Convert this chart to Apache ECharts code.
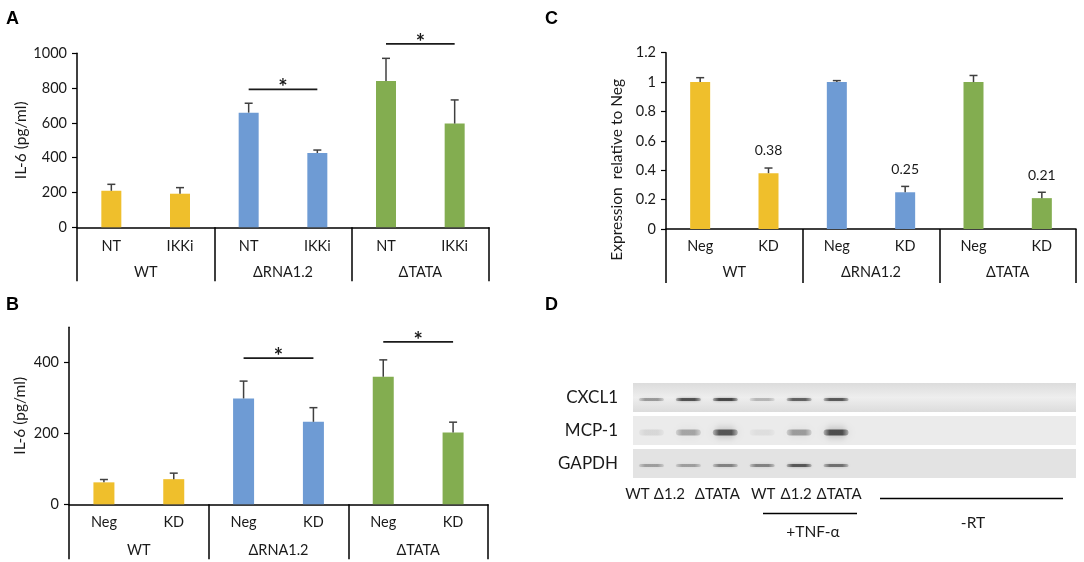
<!DOCTYPE html>
<html lang="en">
<head>
  <meta charset="UTF-8">
  <title>IL-6 / knockdown / RT-PCR</title>
  <script src="https://cdn.jsdelivr.net/npm/echarts@6/dist/echarts.min.js"></script>
  <style>
    html, body { margin: 0; padding: 0; background: #fff; }
  </style>
</head>
<body>
  <div id="main" style="width:1084px;height:562px;"></div>
  <script type="text/javascript">
    // data
    var groups = ['WT', 'ΔRNA1.2', 'ΔTATA'];
    var condA = ['NT', 'IKKi', 'NT', 'IKKi', 'NT', 'IKKi'];
    var condB = ['Neg', 'KD', 'Neg', 'KD', 'Neg', 'KD'];

    var il6A = [210, 193, 659, 427, 841, 596];
    var errA = [37, 35, 54, 17, 130, 136];
    var sigA = [[2, 3, 793], [4, 5, 1054]];

    var il6B = [62, 71, 299, 233, 360, 203];
    var errB = [8, 17, 49, 40, 48, 29];
    var sigB = [[2, 3, 413], [4, 5, 459]];

    var exprC = [1, 0.38, 1, 0.25, 1, 0.21];
    var errC = [0.03, 0.035, 0.01, 0.04, 0.045, 0.04];
    var labelC = ['', '0.38', '', '0.25', '', '0.21'];

    var lanes = ['WT', 'Δ1.2', 'ΔTATA', 'WT', 'Δ1.2', 'ΔTATA', '', '', '', '', '', ''];
    var genes = ['CXCL1', 'MCP-1', 'GAPDH'];
    var bandCXCL1 = [0.45, 0.85, 0.9, 0.3, 0.75, 0.8];
    var bandMCP1 = [0.12, 0.4, 0.85, 0.08, 0.45, 0.9];
    var bandGAPDH = [0.4, 0.4, 0.55, 0.55, 0.8, 0.65];

    // styling
    var FONT = 'Lato, "Noto Sans", sans-serif';
    var TXT = '#1a1a1a';
    var groupColors = ['#EFBF2C', '#6E9BD4', '#83AD50'];
    var laneShift = [-14, -19, -8, 1, -3, 3, 0, 0, 0, 0, 0, 0];
    var bandH = [3, 6, 3];
    var bandBlur = [3, 9, 3];
    var stripFill = ['#e6e6e6', '#ebebeb', '#e3e3e3'];

    var myChart = echarts.init(document.getElementById('main'));

    function barData(vals) {
      return vals.map(function (v, i) {
        return { value: v, itemStyle: { color: groupColors[Math.floor(i / 2)] } };
      });
    }

    function errSeries(idx, vals, errs) {
      return {
        type: 'custom',
        xAxisIndex: idx * 2,
        yAxisIndex: idx,
        z: 5,
        encode: { x: 0, y: 1 },
        data: vals.map(function (v, i) { return [i, v, errs[i]]; }),
        renderItem: function (params, api) {
          var base = api.coord([api.value(0), api.value(1)]);
          var top = api.coord([api.value(0), api.value(1) + api.value(2)]);
          var st = { stroke: '#404040', lineWidth: 1.5 };
          return {
            type: 'group',
            children: [
              { type: 'line', shape: { x1: base[0], y1: base[1], x2: top[0], y2: top[1] }, style: st },
              { type: 'line', shape: { x1: top[0] - 4, y1: top[1], x2: top[0] + 4, y2: top[1] }, style: st }
            ]
          };
        }
      };
    }

    function sigSeries(idx, sig) {
      return {
        type: 'custom',
        xAxisIndex: idx * 2,
        yAxisIndex: idx,
        z: 5,
        clip: false,
        encode: { x: [0, 1], y: 2 },
        data: sig,
        renderItem: function (params, api) {
          var a = api.coord([api.value(0), api.value(2)]);
          var b = api.coord([api.value(1), api.value(2)]);
          return {
            type: 'group',
            children: [
              { type: 'line', shape: { x1: a[0], y1: a[1], x2: b[0], y2: b[1] }, style: { stroke: '#1a1a1a', lineWidth: 1.8 } },
              { type: 'text', style: { text: '*', x: (a[0] + b[0]) / 2, y: a[1] - 1, align: 'center', verticalAlign: 'middle', font: 'bold 22px ' + FONT, fill: '#1a1a1a' } }
            ]
          };
        }
      };
    }

    function subAxis(gi, cats, margin) {
      return {
        type: 'category', gridIndex: gi, data: cats, position: 'bottom',
        axisLine: { show: true, onZero: false, lineStyle: { color: '#000', width: 1.5 } },
        axisTick: { show: false },
        axisLabel: { margin: margin, color: TXT, fontFamily: FONT, fontSize: 14.5 }
      };
    }
    function groupAxis(gi, margin, len) {
      return {
        type: 'category', gridIndex: gi, data: groups, position: 'bottom',
        axisLine: { show: false, onZero: false },
        axisTick: { show: true, length: len, lineStyle: { color: '#000', width: 1.5 } },
        axisLabel: { margin: margin, color: TXT, fontFamily: FONT, fontSize: 14.5 }
      };
    }
    function valAxis(gi, max, interval, name, gap, extra) {
      var ax = {
        type: 'value', gridIndex: gi, min: 0, max: max, interval: interval,
        name: name, nameLocation: 'middle', nameGap: gap,
        nameTextStyle: { color: TXT, fontFamily: FONT, fontSize: 15.5 },
        axisLine: { show: true, lineStyle: { color: '#000', width: 1.5 } },
        axisTick: { show: true, length: 5, lineStyle: { color: '#000', width: 1.2 } },
        axisLabel: {
          margin: 10, color: TXT, fontFamily: FONT, fontSize: 14.5,
          formatter: function (v) { return String(+v.toFixed(2)); }
        },
        splitLine: { show: false }
      };
      if (extra) {
        for (var k in extra) ax[k] = Object.assign({}, ax[k], extra[k]);
      }
      return ax;
    }

    var option = {
      animation: false,
      grid: [
        { left: 77, top: 53.3, width: 412, height: 174 },
        { left: 69, top: 327.3, width: 419, height: 177 },
        { left: 666, top: 52.7, width: 410, height: 176.3 },
        { left: 633, top: 381, width: 443, height: 99 }
      ],
      xAxis: [
        subAxis(0, condA, 12), groupAxis(0, 38, 54),
        subAxis(1, condB, 11), groupAxis(1, 39, 55),
        subAxis(2, condB, 10), groupAxis(2, 36, 54),
        {
          type: 'category', gridIndex: 3, data: lanes, position: 'bottom',
          axisLine: { show: false }, axisTick: { show: false },
          axisLabel: {
            margin: 7, color: TXT, fontFamily: FONT, fontSize: 15, interval: 0,
            formatter: function (v, i) { return v ? '{s' + i + '|' + v + '}' : ''; },
            rich: (function () {
              var r = {};
              laneShift.forEach(function (d, i) {
                r['s' + i] = { fontFamily: FONT, fontSize: 15, color: TXT, padding: d < 0 ? [0, -2 * d, 0, 0] : [0, 0, 0, 2 * d] };
              });
              return r;
            })()
          }
        }
      ],
      yAxis: [
        valAxis(0, 1000, 200, 'IL-6 (pg/ml)', 47),
        valAxis(1, 500, 200, 'IL-6 (pg/ml)', 41, {
          axisLabel: { customValues: [0, 200, 400] },
          axisTick: { customValues: [0, 200, 400] }
        }),
        valAxis(2, 1.2, 0.2, 'Expression  relative to Neg', 41, {
          nameTextStyle: { padding: [0, 58, 0, 0] }
        }),
        {
          type: 'category', gridIndex: 3, data: genes, inverse: true,
          axisLine: { show: false }, axisTick: { show: false },
          axisLabel: { margin: 15, color: TXT, fontFamily: FONT, fontSize: 17 }
        }
      ],
      graphic: [
        { type: 'text', left: 6, top: 10, style: { text: 'A', font: 'bold 18px Arial', fill: '#000' } },
        { type: 'text', left: 6, top: 296, style: { text: 'B', font: 'bold 18px Arial', fill: '#000' } },
        { type: 'text', left: 545, top: 10, style: { text: 'C', font: 'bold 18px Arial', fill: '#000' } },
        { type: 'text', left: 545, top: 296, style: { text: 'D', font: 'bold 18px Arial', fill: '#000' } },
        { type: 'line', shape: { x1: 763, y1: 513.5, x2: 857, y2: 513.5 }, style: { stroke: '#000', lineWidth: 1.3 } },
        { type: 'text', x: 813, y: 532, style: { text: '+TNF-α', font: '15.5px ' + FONT, fill: TXT, align: 'center', verticalAlign: 'middle' } },
        { type: 'line', shape: { x1: 880, y1: 498.5, x2: 1063, y2: 498.5 }, style: { stroke: '#000', lineWidth: 1.3 } },
        { type: 'text', x: 973, y: 523, style: { text: '-RT', font: '15.5px ' + FONT, fill: TXT, align: 'center', verticalAlign: 'middle' } }
      ],
      series: [
        { type: 'bar', xAxisIndex: 0, yAxisIndex: 0, barWidth: 20, data: barData(il6A) },
        errSeries(0, il6A, errA),
        sigSeries(0, sigA),
        { type: 'bar', xAxisIndex: 2, yAxisIndex: 1, barWidth: 21, data: barData(il6B) },
        errSeries(1, il6B, errB),
        sigSeries(1, sigB),
        {
          type: 'bar', xAxisIndex: 4, yAxisIndex: 2, barWidth: 20, data: barData(exprC),
          label: {
            show: true, position: 'top', distance: 16, color: TXT, fontFamily: FONT, fontSize: 14,
            formatter: function (p) { return labelC[p.dataIndex]; }
          }
        },
        errSeries(2, exprC, errC),
        // gel strips
        {
          type: 'custom', xAxisIndex: 6, yAxisIndex: 3, z: 1,
          encode: { x: 0, y: 1 },
          data: genes.map(function (g, i) { return [0, i]; }),
          renderItem: function (params, api) {
            var row = api.value(1);
            var c = api.coord([0, row]);
            var s = api.size([1, 1]);
            var h = s[1] - 4;
            return {
              type: 'rect',
              shape: { x: c[0] - s[0] / 2, y: c[1] - h / 2, width: s[0] * lanes.length, height: h },
              style: {
                fill: new echarts.graphic.LinearGradient(0, 0, 0, 1, [
                  { offset: 0, color: row === 0 ? '#dcdcdc' : stripFill[row] },
                  { offset: 0.5, color: row === 0 ? '#eeeeee' : stripFill[row] },
                  { offset: 1, color: row === 0 ? '#dcdcdc' : stripFill[row] }
                ])
              }
            };
          }
        },
        // gel bands
        {
          type: 'custom', xAxisIndex: 6, yAxisIndex: 3, z: 2,
          encode: { x: 0, y: 1 },
          data: [].concat(
            bandCXCL1.map(function (v, i) { return [i, 0, v]; }),
            bandMCP1.map(function (v, i) { return [i, 1, v]; }),
            bandGAPDH.map(function (v, i) { return [i, 2, v]; })
          ),
          renderItem: function (params, api) {
            var row = api.value(1);
            var a = api.value(2) * 0.8;
            var c = api.coord([api.value(0), row]);
            var h = bandH[row];
            var w = 25;
            var rgb = 'rgba(30,30,30,';
            return {
              type: 'rect',
              shape: { x: c[0] - w / 2, y: c[1] + 2 - h / 2, width: w, height: h, r: h / 2 },
              style: {
                fill: new echarts.graphic.LinearGradient(0, 0, 1, 0, [
                  { offset: 0, color: rgb + (a * 0.35) + ')' },
                  { offset: 0.25, color: rgb + a + ')' },
                  { offset: 0.75, color: rgb + a + ')' },
                  { offset: 1, color: rgb + (a * 0.35) + ')' }
                ]),
                shadowBlur: bandBlur[row],
                shadowColor: rgb + (a * 0.7) + ')'
              }
            };
          }
        }
      ]
    };

    myChart.setOption(option);
  </script>
</body>
</html>
